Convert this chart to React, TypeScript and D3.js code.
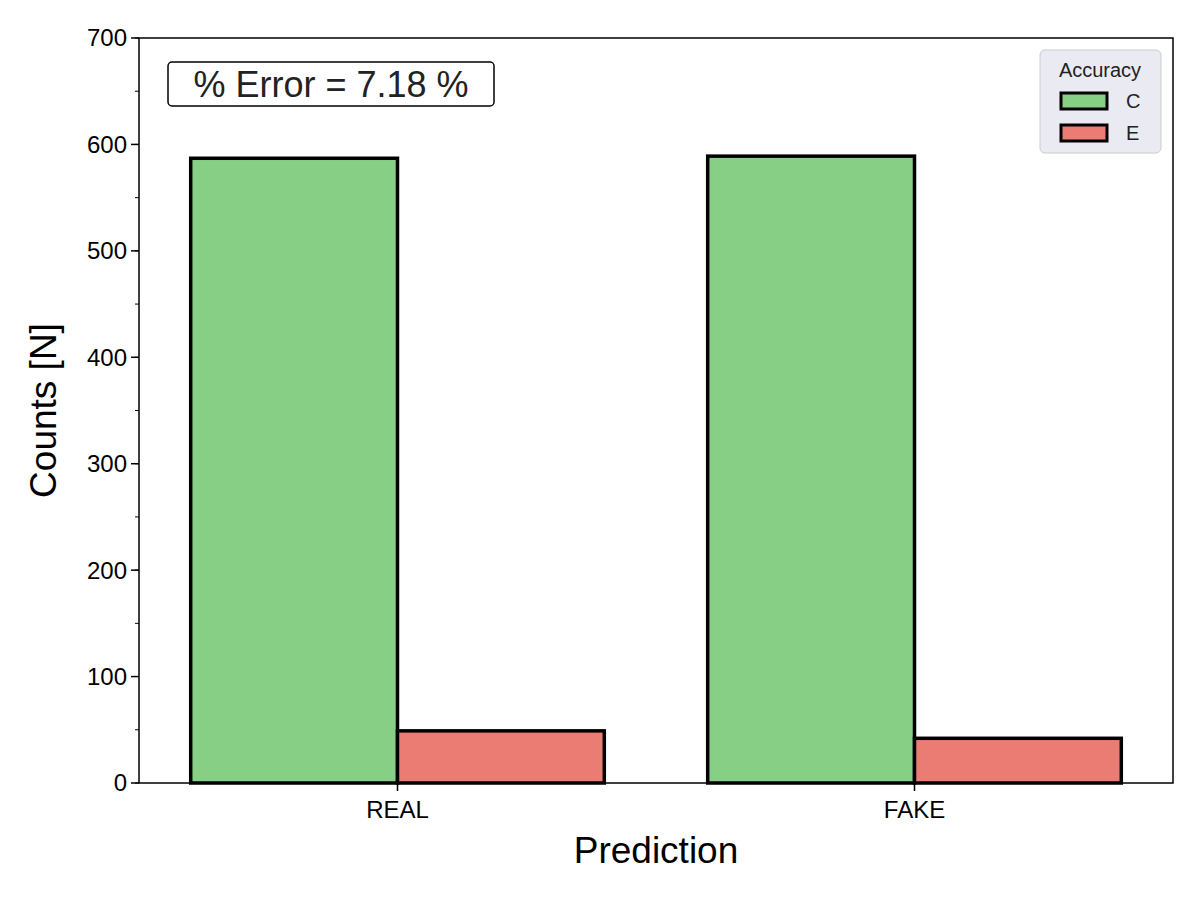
import * as d3 from 'd3';

const categories = ['REAL', 'FAKE'];
const hues = ['C', 'E'];
const countsC = [587, 589];
const countsE = [49, 42];
const yTicks = [0, 100, 200, 300, 400, 500, 600, 700];
const colors: Record<string, string> = { C: '#86cf84', E: '#eb7c74' };

const W = 1200;
const H = 900;
const m = { left: 139, right: 1173, top: 38, bottom: 783 };

const x = d3.scaleBand<string>().domain(categories).range([m.left, m.right]);
const y = d3.scaleLinear([0, 700], [m.bottom, m.top]);
const inner = d3.scaleBand<string>().domain(hues).range([0, x.bandwidth() * 0.8]);
const minor = d3.range(0, 701, 50);

const total = d3.sum(countsC) + d3.sum(countsE);
const err = (d3.sum(countsE) / total) * 100;

export default function App() {
  const font = 'Arial, "Liberation Sans", sans-serif';
  const bars = categories.flatMap((c, i) =>
    hues.map(h => ({ c, h, v: h === 'C' ? countsC[i] : countsE[i] }))
  );
  return (
    <svg width={W} height={H} style={{ position: 'absolute', left: 0, top: 0, background: '#fff' }} fontFamily={font}>
      {bars.map(b => (
        <rect key={b.c + b.h}
          x={x(b.c)! + x.bandwidth() * 0.1 + inner(b.h)!}
          y={y(b.v)} width={inner.bandwidth()} height={y(0) - y(b.v)}
          fill={colors[b.h]} stroke="#000" strokeWidth={3.5} />
      ))}
      <rect x={m.left} y={m.top} width={m.right - m.left} height={m.bottom - m.top}
        fill="none" stroke="#000" strokeWidth={1.5} />
      {minor.map(t => (
        <line key={'m' + t} x1={m.left} x2={m.left - 4} y1={y(t)} y2={y(t)} stroke="#000" strokeWidth={1} />
      ))}
      {yTicks.map(t => (
        <g key={t}>
          <line x1={m.left} x2={m.left - 8} y1={y(t)} y2={y(t)} stroke="#000" strokeWidth={1.5} />
          <text x={m.left - 12} y={y(t)} dy="0.35em" textAnchor="end" fontSize={24}>{t}</text>
        </g>
      ))}
      {categories.map(c => (
        <g key={c}>
          <line x1={x(c)! + x.bandwidth() / 2} x2={x(c)! + x.bandwidth() / 2} y1={m.bottom} y2={m.bottom + 8} stroke="#000" strokeWidth={1.5} />
          <text x={x(c)! + x.bandwidth() / 2} y={m.bottom + 35} textAnchor="middle" fontSize={24}>{c}</text>
        </g>
      ))}
      <text x={(m.left + m.right) / 2} y={863} textAnchor="middle" fontSize={37}>Prediction</text>
      <text transform={`translate(56,${(m.top + m.bottom) / 2}) rotate(-90)`} textAnchor="middle" fontSize={37}>Counts [N]</text>
      <rect x={168} y={62} width={326} height={44} rx={4} fill="#fff" stroke="#000" strokeWidth={1.5} />
      <text x={331} y={97} textAnchor="middle" fontSize={36} fill="#222">% Error = {err.toFixed(2)} %</text>
      <rect x={1040} y={50} width={121} height={103} rx={5} fill="#eaeaf2" stroke="#ccc" strokeWidth={1} />
      <text x={1100} y={77} textAnchor="middle" fontSize={20} fill="#222">Accuracy</text>
      {hues.map((h, i) => (
        <g key={h}>
          <rect x={1061} y={93 + i * 32} width={46} height={16} fill={colors[h]} stroke="#000" strokeWidth={3} />
          <text x={1126} y={101 + i * 32} dy="0.35em" fontSize={20} fill="#222">{h}</text>
        </g>
      ))}
    </svg>
  );
}
